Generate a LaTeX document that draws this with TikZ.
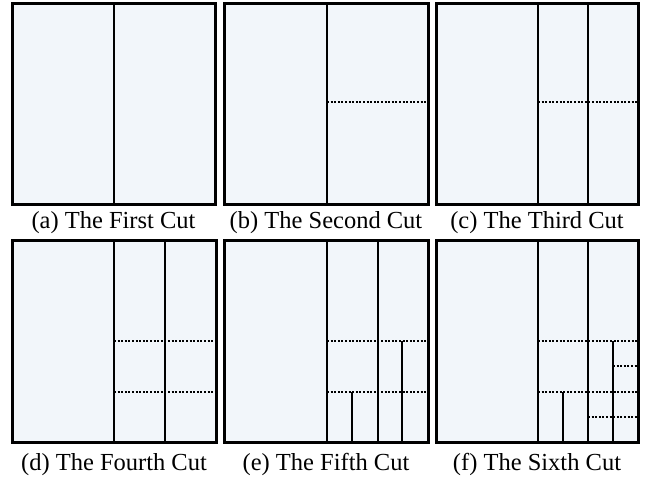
\documentclass[tikz,border=0pt]{standalone}
\usepackage{fontspec}
\setmainfont{Liberation Serif}
\definecolor{panelfill}{RGB}{242,246,250}
\tikzset{
  frame/.style={draw=black, line width=3pt, fill=panelfill},
  cut/.style={draw=black, line width=1.8pt},
  dotcut/.style={draw=black, line width=2pt, dash pattern=on 2pt off 1.6pt},
  caption/.style={anchor=base, inner sep=0pt, font=\fontsize{24.5}{28}\selectfont}
}
\begin{document}
\begin{tikzpicture}[x=1pt, y=-1pt]
\useasboundingbox (0,0) rectangle (645,482);
% (a)
\draw[frame] (12,3) rectangle (215,204);
\draw[cut] (114,3) -- (114,204);
\node[caption] (capa) at (113.5,228) {(a) The First Cut};
% (b)
\draw[frame] (224,3) rectangle (428,204);
\draw[cut] (327,3) -- (327,204);
\draw[dotcut] (327,102) -- (428,102);
\node[caption] (capb) at (326,228) {(b) The Second Cut};
% (c)
\draw[frame] (436,3) rectangle (638,204);
\draw[cut] (538,3) -- (538,204);
\draw[cut] (588,3) -- (588,204);
\draw[dotcut] (538,102) -- (638,102);
\node[caption] (capc) at (537,228) {(c) The Third Cut};
% (d)
\draw[frame] (12,240) rectangle (216,442);
\draw[cut] (114,240) -- (114,442);
\draw[cut] (165,240) -- (165,442);
\draw[dotcut] (114,341) -- (216,341);
\draw[dotcut] (114,392) -- (216,392);
\node[caption] (capd) at (114,470) {(d) The Fourth Cut};
% (e)
\draw[frame] (224,240) rectangle (428,442);
\draw[cut] (327,240) -- (327,442);
\draw[cut] (378,240) -- (378,442);
\draw[dotcut] (327,341) -- (428,341);
\draw[dotcut] (327,392) -- (428,392);
\draw[cut] (352,392) -- (352,442);
\draw[cut] (402,341) -- (402,442);
\node[caption] (cape) at (326,470) {(e) The Fifth Cut};
% (f)
\draw[frame] (436,240) rectangle (638,442);
\draw[cut] (538,240) -- (538,442);
\draw[cut] (588,240) -- (588,442);
\draw[dotcut] (538,341) -- (638,341);
\draw[dotcut] (538,392) -- (638,392);
\draw[cut] (563,392) -- (563,442);
\draw[cut] (613,341) -- (613,442);
\draw[dotcut] (613,366) -- (638,366);
\draw[dotcut] (588,417) -- (638,417);
\node[caption] (capf) at (537,470) {(f) The Sixth Cut};
\end{tikzpicture}
\end{document}
